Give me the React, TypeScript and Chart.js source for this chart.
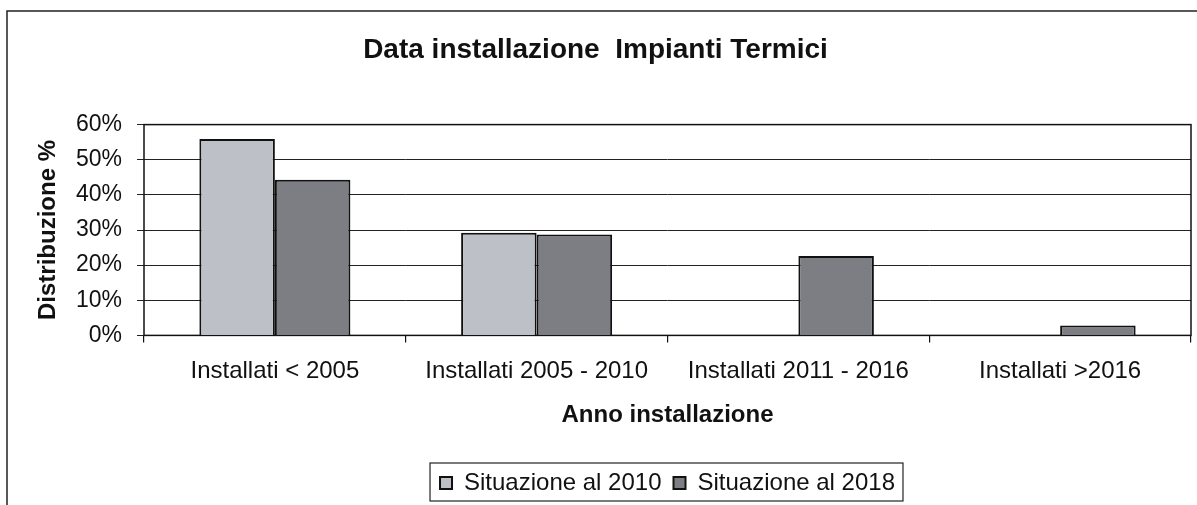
import React, { useEffect, useRef } from "react";
import { Chart, registerables } from "chart.js";

Chart.register(...registerables);

const categories = [
  "Installati < 2005",
  "Installati 2005 - 2010",
  "Installati 2011 - 2016",
  "Installati >2016",
];
const situazione2010 = [55.9, 29.2, null, null];
const situazione2018 = [44.3, 28.7, 22.6, 2.8];
const yTicks = [0, 10, 20, 30, 40, 50, 60];
const seriesNames = ["Situazione al 2010", "Situazione al 2018"];
const titleText = "Data installazione  Impianti Termici";
const xTitle = "Anno installazione";
const yTitle = "Distribuzione %";

const FONT = "'Liberation Sans', Arial, sans-serif";
const INK = "#111111";

const framePlugin = {
  id: "frame",
  beforeDraw(chart: any) {
    const ctx = chart.ctx;
    ctx.save();
    ctx.fillStyle = "#ffffff";
    ctx.fillRect(0, 0, chart.width, chart.height);
    ctx.strokeStyle = "#222222";
    ctx.lineWidth = 1.5;
    ctx.beginPath();
    ctx.moveTo(7, chart.height);
    ctx.lineTo(7, 11);
    ctx.lineTo(chart.width, 11);
    ctx.stroke();
    ctx.restore();
  },
  beforeDatasetsDraw(chart: any) {
    const { ctx, chartArea } = chart;
    ctx.save();
    ctx.strokeStyle = "#111111";
    ctx.lineWidth = 1.5;
    ctx.strokeRect(chartArea.left, chartArea.top, chartArea.right - chartArea.left, chartArea.bottom - chartArea.top);
    ctx.restore();
  },
  afterDraw(chart: any) {
    const lg = chart.legend;
    if (!lg || !lg.legendHitBoxes || !lg.legendHitBoxes.length) return;
    const hb = lg.legendHitBoxes;
    let l = Infinity, r = -Infinity, t = Infinity, b = -Infinity;
    hb.forEach((h: any) => {
      l = Math.min(l, h.left);
      r = Math.max(r, h.left + h.width);
      t = Math.min(t, h.top);
      b = Math.max(b, h.top + h.height);
    });
    const ctx = chart.ctx;
    ctx.save();
    ctx.strokeStyle = "#222222";
    ctx.lineWidth = 1.2;
    ctx.strokeRect(l - 10, t - 8, r - l + 18, b - t + 14);
    ctx.restore();
  },
};

export default function App() {
  const ref = useRef<HTMLCanvasElement>(null);

  useEffect(() => {
    document.body.style.margin = "0";
    const canvas = ref.current;
    if (!canvas) return;
    const chart = new Chart(canvas, {
      type: "bar",
      data: {
        labels: categories,
        datasets: [
          {
            label: seriesNames[0],
            data: situazione2010,
            backgroundColor: "#bec0c7",
            borderColor: "#111111",
            borderWidth: 2,
          },
          {
            label: seriesNames[1],
            data: situazione2018,
            backgroundColor: "#7c7e83",
            borderColor: "#111111",
            borderWidth: 2,
          },
        ],
      },
      options: {
        responsive: false,
        animation: false,
        devicePixelRatio: 1,
        layout: { padding: { left: 0, right: 6, top: 0, bottom: 0 } },
        datasets: {
          bar: { categoryPercentage: 0.577, barPercentage: 1.0 },
        },
        plugins: {
          title: {
            display: true,
            text: titleText,
            color: INK,
            font: { family: FONT, size: 28, weight: "bold" },
            padding: { top: 33, bottom: 58 },
          },
          legend: {
            display: true,
            position: "bottom",
            fullSize: false,
            labels: {
              color: INK,
              font: { family: FONT, size: 24 },
              boxWidth: 12,
              boxHeight: 12,
              padding: 12,
            },
          },
          tooltip: { enabled: false },
        },
        scales: {
          x: {
            offset: true,
            grid: {
              display: true,
              offset: true,
              drawOnChartArea: false,
              drawTicks: true,
              tickLength: 7,
              color: "#111111",
              lineWidth: 1.2,
            },
            border: { display: false },
            ticks: {
              color: INK,
              font: { family: FONT, size: 24 },
              padding: 15,
              maxRotation: 0,
              autoSkip: false,
            },
            title: {
              display: true,
              text: xTitle,
              color: INK,
              font: { family: FONT, size: 24, weight: "bold" },
              padding: { top: 0, bottom: 29 },
            },
          },
          y: {
            min: 0,
            max: 60,
            afterFit: (scale: any) => {
              scale.width = 144;
            },
            afterBuildTicks: (scale: any) => {
              scale.ticks = yTicks.map((v) => ({ value: v }));
            },
            grid: {
              display: true,
              drawTicks: true,
              tickLength: 7,
              color: "#222222",
              lineWidth: 1,
            },
            border: { display: false },
            ticks: {
              color: INK,
              font: { family: FONT, size: 23 },
              padding: 15,
              callback: (v: any) => v + "%",
            },
            title: {
              display: true,
              text: yTitle,
              color: INK,
              font: { family: FONT, size: 24, weight: "bold" },
              padding: { top: 34, bottom: 4 },
            },
          },
        },
      },
      plugins: [framePlugin],
    });
    return () => chart.destroy();
  }, []);

  return (
    <div style={{ position: "absolute", left: 0, top: 0, width: 1197, height: 505 }}>
      <canvas ref={ref} width={1197} height={505} />
    </div>
  );
}
